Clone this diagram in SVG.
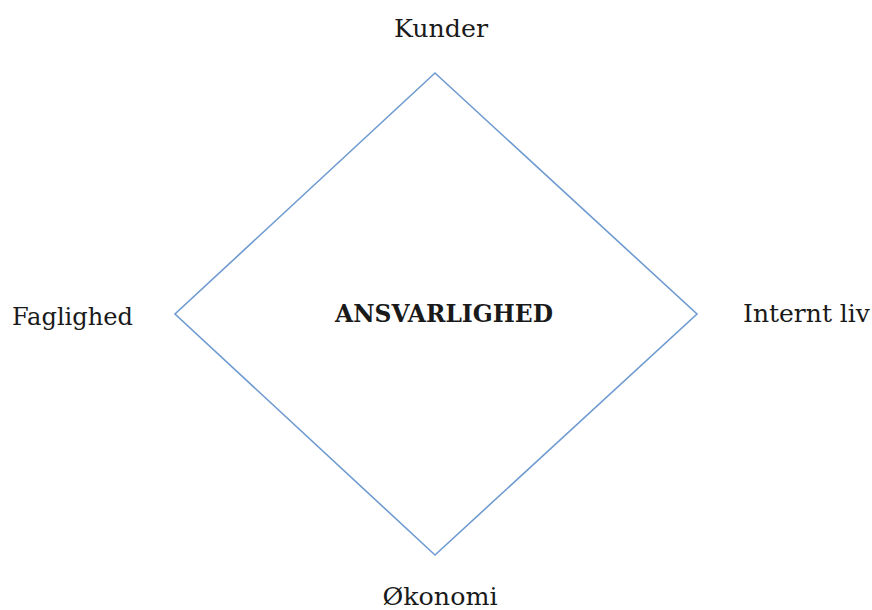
<svg xmlns="http://www.w3.org/2000/svg" width="872" height="610" viewBox="0 0 872 610">
<style>
.t{font-family:"DejaVu Serif","Liberation Serif",serif;font-size:25px;fill:#1a1a1a}
.b{font-weight:bold}
.d{fill:#fff;stroke:#6f9bd1;stroke-width:1.6}
</style>
<rect width="872" height="610" fill="#fff"/>
<g id="diamond">
<polygon class="d" points="435,73 697,314 435,555 175,314"/>
<text class="t b" x="444" y="322" text-anchor="middle" textLength="218" lengthAdjust="spacingAndGlyphs">ANSVARLIGHED</text>
</g>
<g id="kunder"><text class="t" x="441" y="37" text-anchor="middle" textLength="94" lengthAdjust="spacingAndGlyphs">Kunder</text></g>
<g id="faglighed"><text class="t" x="12" y="325" textLength="121" lengthAdjust="spacingAndGlyphs">Faglighed</text></g>
<g id="internt"><text class="t" x="743" y="322" textLength="127" lengthAdjust="spacingAndGlyphs">Internt liv</text></g>
<g id="okonomi"><text class="t" x="440" y="605" text-anchor="middle" textLength="115" lengthAdjust="spacingAndGlyphs">Økonomi</text></g>
</svg>
